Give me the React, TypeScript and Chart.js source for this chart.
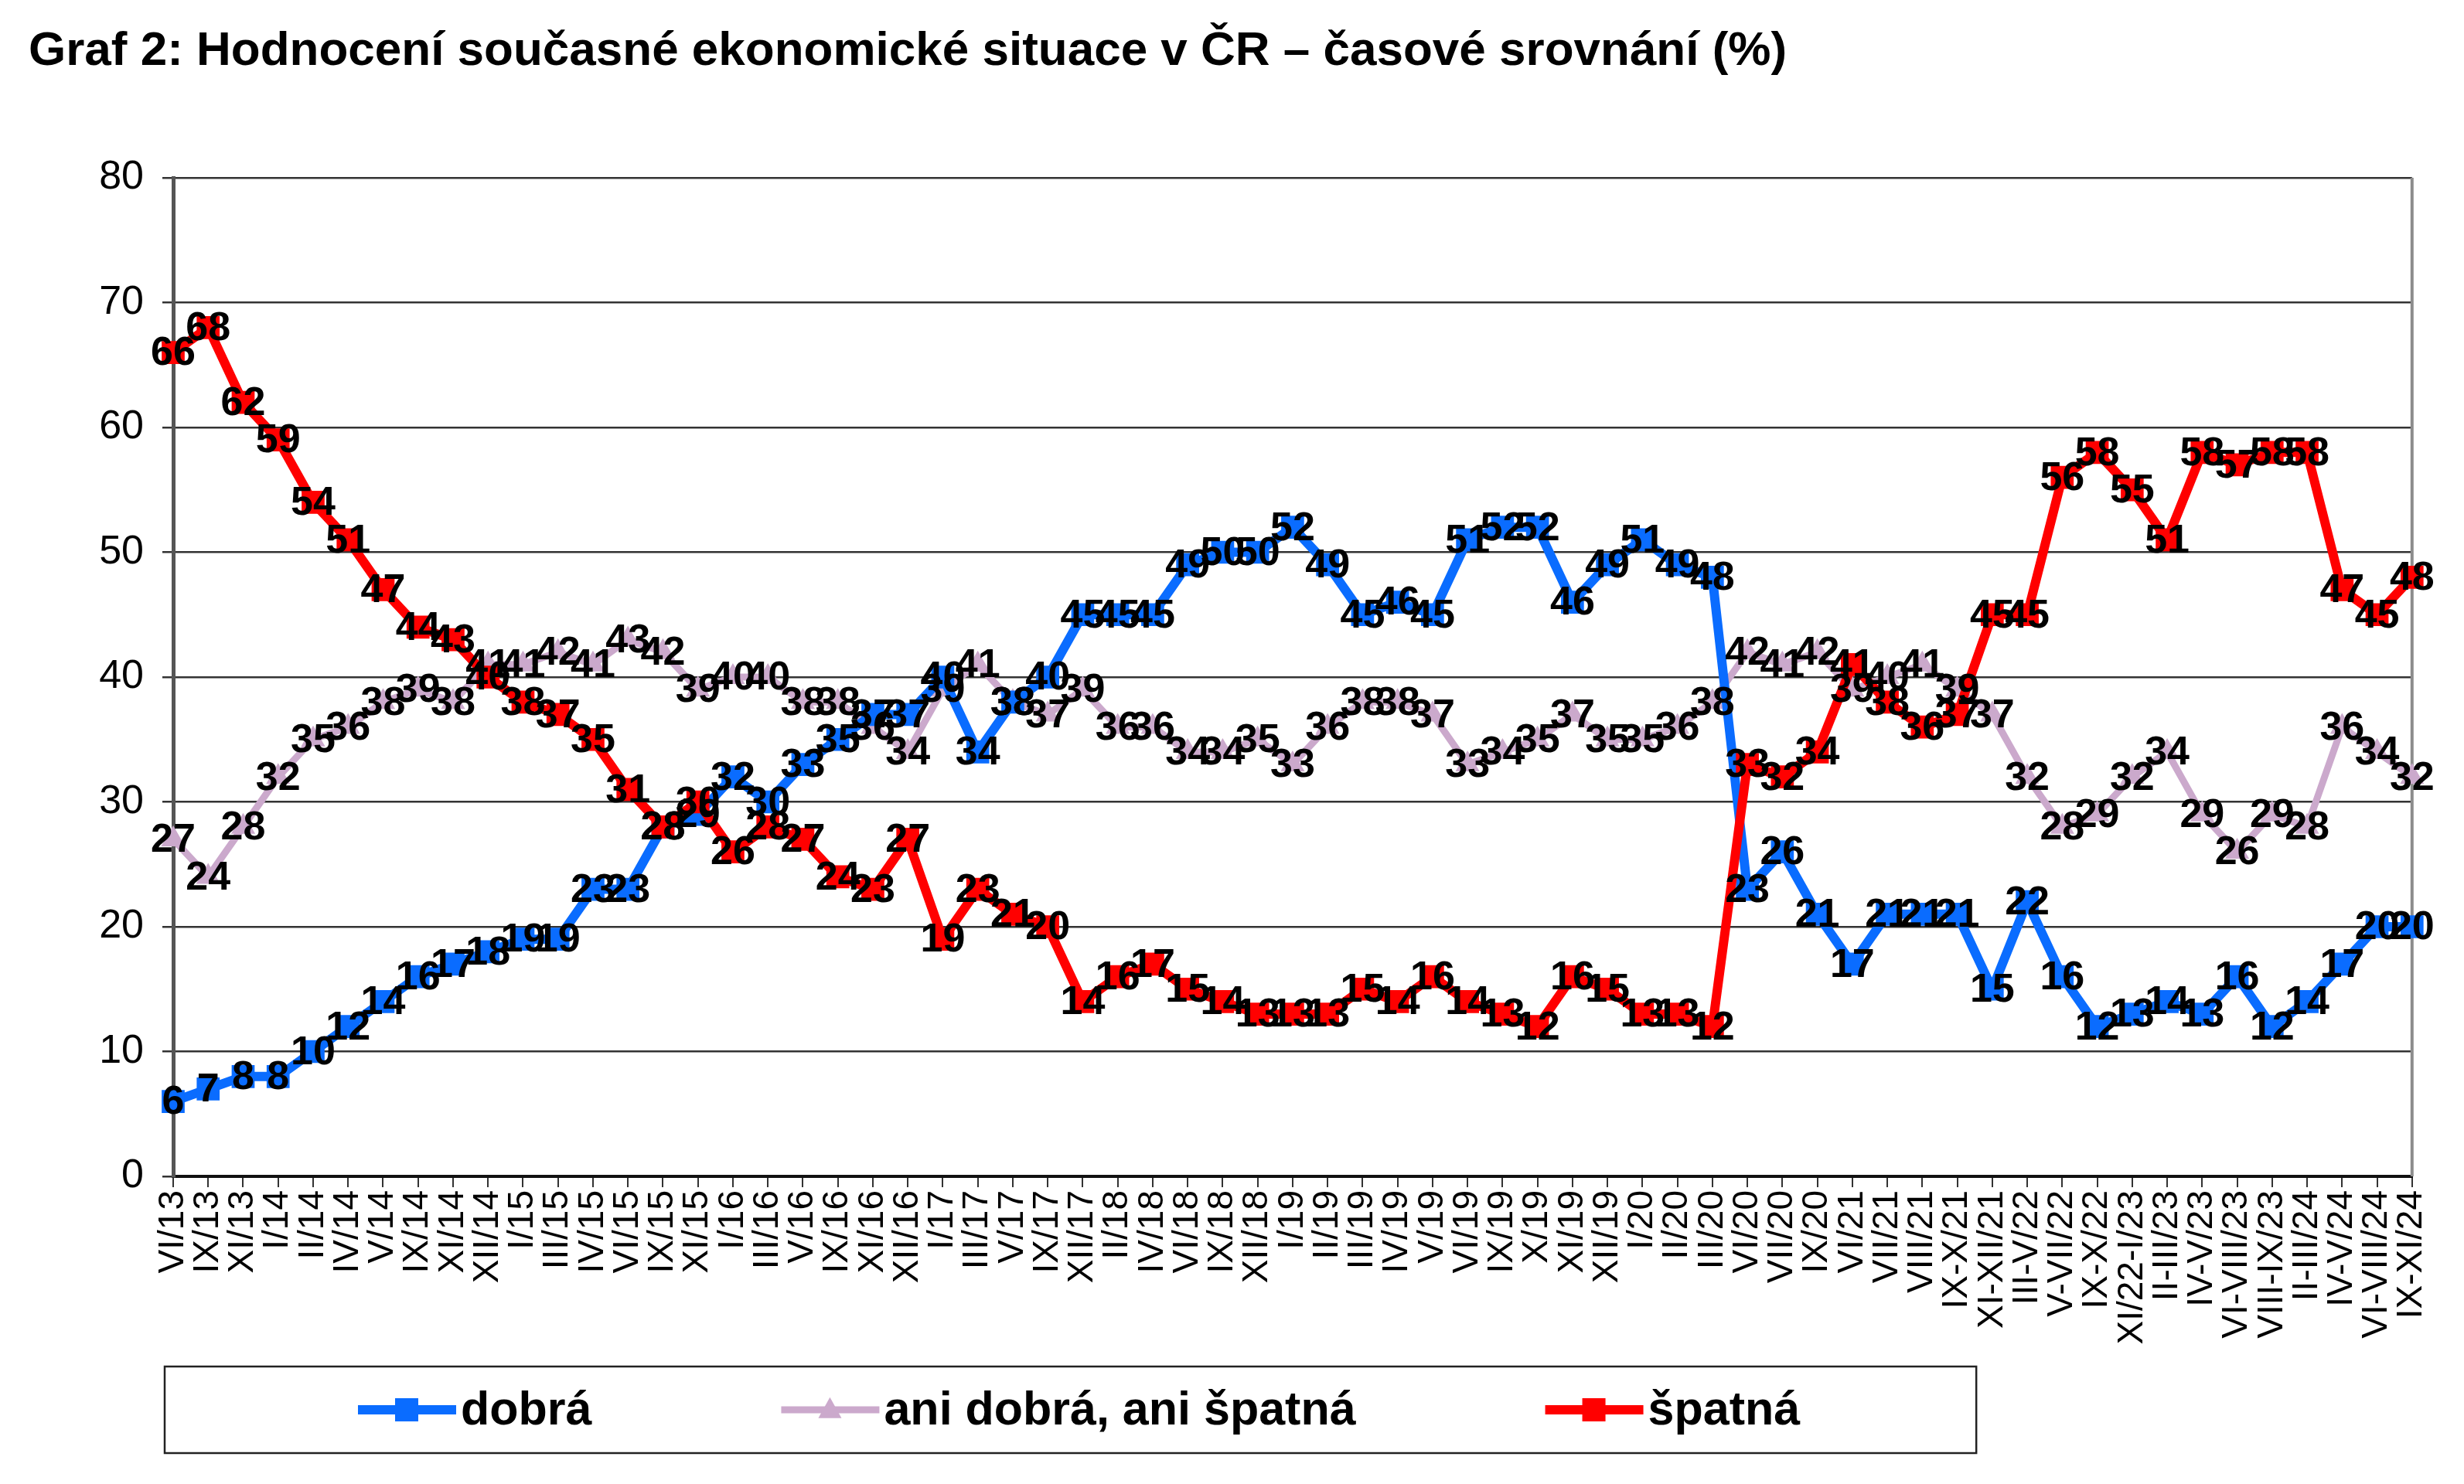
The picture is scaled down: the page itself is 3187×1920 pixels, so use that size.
import { useEffect, useRef } from "react";
import { Chart, registerables } from "chart.js";

Chart.register(...registerables);

const titleText = "Graf 2: Hodnocení současné ekonomické situace v ČR – časové srovnání (%)";

const categories = [
  "VI/13", "IX/13", "XI/13", "I/14", "II/14", "IV/14", "V/14", "IX/14", "XI/14", "XII/14",
  "I/15", "III/15", "IV/15", "VI/15", "IX/15", "XI/15", "I/16", "III/16", "V/16", "IX/16",
  "XI/16", "XII/16", "I/17", "III/17", "V/17", "IX/17", "XII/17", "II/18", "IV/18", "VI/18",
  "IX/18", "XII/18", "I/19", "II/19", "III/19", "IV/19", "V/19", "VI/19", "IX/19", "X/19",
  "XI/19", "XII/19", "I/20", "II/20", "III/20", "VI/20", "VII/20", "IX/20", "VI/21", "VII/21",
  "VIII/21", "IX-X/21", "XI-XII/21", "III-V/22", "V-VII/22", "IX-X/22", "XI/22-I/23", "II-III/23", "IV-V/23", "VI-VIII/23",
  "VIII-IX/23", "II-III/24", "IV-V/24", "VI-VIII/24", "IX-XI/24",
];

const dobra = [
  6, 7, 8, 8, 10, 12, 14, 16, 17, 18,
  19, 19, 23, 23, 28, 29, 32, 30, 33, 35,
  37, 37, 40, 34, 38, 40, 45, 45, 45, 49,
  50, 50, 52, 49, 45, 46, 45, 51, 52, 52,
  46, 49, 51, 49, 48, 23, 26, 21, 17, 21,
  21, 21, 15, 22, 16, 12, 13, 14, 13, 16,
  12, 14, 17, 20, 20,
];

const aniDobraAniSpatna = [
  27, 24, 28, 32, 35, 36, 38, 39, 38, 41,
  41, 42, 41, 43, 42, 39, 40, 40, 38, 38,
  36, 34, 39, 41, 38, 37, 39, 36, 36, 34,
  34, 35, 33, 36, 38, 38, 37, 33, 34, 35,
  37, 35, 35, 36, 38, 42, 41, 42, 39, 40,
  41, 39, 37, 32, 28, 29, 32, 34, 29, 26,
  29, 28, 36, 34, 32,
];

const spatna = [
  66, 68, 62, 59, 54, 51, 47, 44, 43, 40,
  38, 37, 35, 31, 28, 30, 26, 28, 27, 24,
  23, 27, 19, 23, 21, 20, 14, 16, 17, 15,
  14, 13, 13, 13, 15, 14, 16, 14, 13, 12,
  16, 15, 13, 13, 12, 33, 32, 34, 41, 38,
  36, 37, 45, 45, 56, 58, 55, 51, 58, 57,
  58, 58, 47, 45, 48,
];

const seriesNames = ["dobrá", "ani dobrá, ani špatná", "špatná"];
const yMin = 0;
const yMax = 80;
const yStep = 10;

const FONT = '"Liberation Sans", Arial, sans-serif';
const BLUE = "#0a6cff";
const PINK = "#cba9cc";
const RED = "#ff0000";

function drawMarker(ctx: CanvasRenderingContext2D, style: string, x: number, y: number, size: number, color: string) {
  ctx.fillStyle = color;
  ctx.beginPath();
  if (style === "triangle") {
    const h = size * 0.9;
    ctx.moveTo(x, y - h * 0.6);
    ctx.lineTo(x + size / 2, y + h * 0.4);
    ctx.lineTo(x - size / 2, y + h * 0.4);
    ctx.closePath();
  } else {
    ctx.rect(x - size / 2, y - size / 2, size, size);
  }
  ctx.fill();
}

const dataLabelPlugin = {
  id: "dataLabels",
  afterDatasetsDraw(chart: any) {
    const ctx = chart.ctx as CanvasRenderingContext2D;
    ctx.save();
    ctx.font = `bold 52px ${FONT}`;
    ctx.textAlign = "center";
    ctx.textBaseline = "middle";
    ctx.fillStyle = "#000";
    chart.data.datasets.forEach((ds: any, di: number) => {
      const meta = chart.getDatasetMeta(di);
      meta.data.forEach((pt: any, i: number) => {
        ctx.fillText(String(ds.data[i]), pt.x, pt.y + 2);
      });
    });
    ctx.restore();
  },
};

const frameLegendPlugin = {
  id: "frameLegend",
  beforeDatasetsDraw(chart: any) {
    const ctx = chart.ctx as CanvasRenderingContext2D;
    const ca = chart.chartArea;
    ctx.save();
    ctx.strokeStyle = "#8c8c8c";
    ctx.lineWidth = 4;
    ctx.beginPath();
    ctx.moveTo(ca.right, ca.top);
    ctx.lineTo(ca.right, ca.bottom);
    ctx.stroke();
    ctx.restore();
  },
  afterDraw(chart: any) {
    const ctx = chart.ctx as CanvasRenderingContext2D;
    const ca = chart.chartArea;
    const top = ca.bottom + 246;
    const height = 112;
    const left = ca.left - 11;
    const cy = top + height / 2;
    ctx.save();
    ctx.font = `bold 61px ${FONT}`;
    ctx.textBaseline = "middle";
    ctx.textAlign = "left";
    let x = left + 250;
    let lastEnd = x;
    const styles = [
      { color: BLUE, marker: "rect", width: 12 },
      { color: PINK, marker: "triangle", width: 9 },
      { color: RED, marker: "rect", width: 12 },
    ];
    seriesNames.forEach((name, i) => {
      const s = styles[i];
      ctx.strokeStyle = s.color;
      ctx.lineWidth = s.width;
      ctx.beginPath();
      ctx.moveTo(x, cy);
      ctx.lineTo(x + 127, cy);
      ctx.stroke();
      drawMarker(ctx, s.marker, x + 63, cy, 30, s.color);
      ctx.fillStyle = "#000";
      const tx = x + 133;
      ctx.fillText(name, tx, cy + 2);
      const w = ctx.measureText(name).width;
      lastEnd = tx + w;
      x = lastEnd + 245;
    });
    ctx.strokeStyle = "#222";
    ctx.lineWidth = 2.5;
    ctx.strokeRect(left, top, lastEnd + 228 - left, height);
    ctx.restore();
  },
};

export default function App() {
  const ref = useRef<HTMLCanvasElement | null>(null);

  useEffect(() => {
    if (!ref.current) return;
    Chart.defaults.font.family = FONT;
    const chart = new Chart(ref.current, {
      type: "line",
      data: {
        labels: categories,
        datasets: [
          {
            label: seriesNames[0],
            data: dobra,
            borderColor: BLUE,
            backgroundColor: BLUE,
            borderWidth: 12,
            pointStyle: "rect",
            pointRadius: 21,
            pointBorderWidth: 0,
            tension: 0,
            order: 2,
          },
          {
            label: seriesNames[1],
            data: aniDobraAniSpatna,
            borderColor: PINK,
            backgroundColor: PINK,
            borderWidth: 9,
            pointStyle: "triangle",
            pointRadius: 18,
            pointBorderWidth: 0,
            tension: 0,
            order: 3,
          },
          {
            label: seriesNames[2],
            data: spatna,
            borderColor: RED,
            backgroundColor: RED,
            borderWidth: 12,
            pointStyle: "rect",
            pointRadius: 21,
            pointBorderWidth: 0,
            tension: 0,
            order: 1,
          },
        ],
      },
      options: {
        responsive: false,
        animation: false,
        devicePixelRatio: 1,
        layout: { padding: { left: 29, right: 58, top: 0, bottom: 160 } },
        plugins: {
          legend: { display: false },
          tooltip: { enabled: false },
          title: {
            display: true,
            text: titleText,
            align: "start",
            color: "#000",
            font: { family: FONT, size: 62, weight: "bold" },
            padding: { top: 21.8, bottom: 125.8 },
          },
        },
        scales: {
          x: {
            type: "category",
            offset: false,
            grid: {
              drawOnChartArea: false,
              drawTicks: true,
              tickLength: 14,
              color: "#333",
              lineWidth: 2,
            },
            border: { color: "#111", width: 4 },
            ticks: {
              autoSkip: false,
              maxRotation: 90,
              minRotation: 90,
              color: "#000",
              padding: 4,
              font: { family: FONT, size: 46 },
            },
            afterFit(scale: any) {
              scale.height = 230;
            },
          },
          y: {
            min: yMin,
            max: yMax,
            grid: { color: "#333", lineWidth: 2.5, tickLength: 14 },
            border: { color: "#555", width: 5 },
            ticks: {
              stepSize: yStep,
              color: "#000",
              padding: 24,
              font: { family: FONT, size: 52 },
            },
            afterFit(scale: any) {
              scale.width = 187;
            },
          },
        },
      },
      plugins: [frameLegendPlugin, dataLabelPlugin],
    });
    return () => chart.destroy();
  }, []);

  return <canvas ref={ref} width={3171} height={1904} style={{ display: "block" }} />;
}
